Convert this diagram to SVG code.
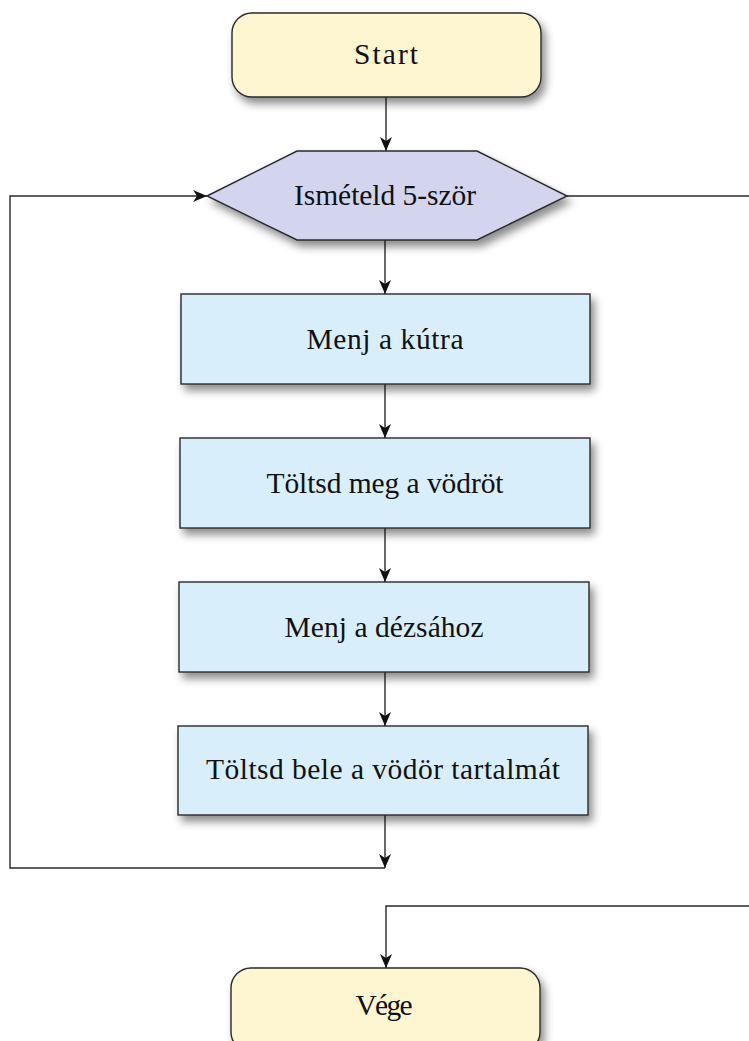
<svg xmlns="http://www.w3.org/2000/svg" width="749" height="1041" viewBox="0 0 749 1041">
  <defs>
    <filter id="shadow" x="-10%" y="-20%" width="130%" height="170%">
      <feDropShadow dx="4" dy="6" stdDeviation="4.5" flood-color="#000" flood-opacity="0.45"/>
    </filter>
    <marker id="arrow" viewBox="-16 -7 18 14" markerWidth="18" markerHeight="14" refX="0" refY="0" orient="auto" markerUnits="userSpaceOnUse">
      <path d="M -14 -6 L 0 0 L -14 6 L -10 0 z" fill="#111"/>
    </marker>
    <style>
      .term { fill: #fdf6d1; stroke: #2a2a2a; stroke-width: 1.4; filter: url(#shadow); }
      .loop { fill: #d3d5ee; stroke: #2a2a2a; stroke-width: 1.4; filter: url(#shadow); }
      .step { fill: #d9eefb; stroke: #2a2a2a; stroke-width: 1.4; filter: url(#shadow); }
      .label { font-family: "Liberation Serif", "Times New Roman", serif; font-size: 29.5px; fill: #111; text-anchor: middle; }
      .wire { fill: none; stroke: #2a2a2a; stroke-width: 1.4; }
      .wire.arr { marker-end: url(#arrow); }
    </style>
  </defs>

  <!-- connectors -->
  <g id="connectors">
    <path class="wire arr" d="M 386 97 V 151"/>
    <path class="wire arr" d="M 385 240 V 294"/>
    <path class="wire arr" d="M 385 384 V 438"/>
    <path class="wire arr" d="M 385 528 V 582"/>
    <path class="wire arr" d="M 385 672 V 726"/>
    <path class="wire arr" d="M 385 815 V 868"/>
    <path class="wire arr" d="M 385 868 H 10 V 196 H 207"/>
    <path class="wire" d="M 567 196 H 752"/>
    <path class="wire arr" d="M 752 906 H 386 V 968"/>
  </g>

  <!-- nodes -->
  <g id="start">
    <rect class="term" x="232" y="13" width="309" height="84" rx="20" ry="20"/>
    <text class="label" x="386" y="64" textLength="64">Start</text>
  </g>

  <g id="repeat">
    <polygon class="loop" points="207,196 297,151 477,151 567,196 477,240 297,240"/>
    <text class="label" x="385" y="205" textLength="182">Ismételd 5-ször</text>
  </g>

  <g id="step1">
    <rect class="step" x="181" y="294" width="409" height="90"/>
    <text class="label" x="385" y="349" textLength="157">Menj a kútra</text>
  </g>

  <g id="step2">
    <rect class="step" x="180" y="438" width="410" height="90"/>
    <text class="label" x="385" y="493" textLength="237">Töltsd meg a vödröt</text>
  </g>

  <g id="step3">
    <rect class="step" x="179" y="582" width="410" height="90"/>
    <text class="label" x="384" y="637" textLength="199">Menj a dézsához</text>
  </g>

  <g id="step4">
    <rect class="step" x="178" y="726" width="410" height="89"/>
    <text class="label" x="383" y="779" textLength="354">Töltsd bele a vödör tartalmát</text>
  </g>

  <g id="end">
    <rect class="term" x="231" y="968" width="309" height="84" rx="20" ry="20"/>
    <text class="label" x="384" y="1015" textLength="57">Vége</text>
  </g>
</svg>
